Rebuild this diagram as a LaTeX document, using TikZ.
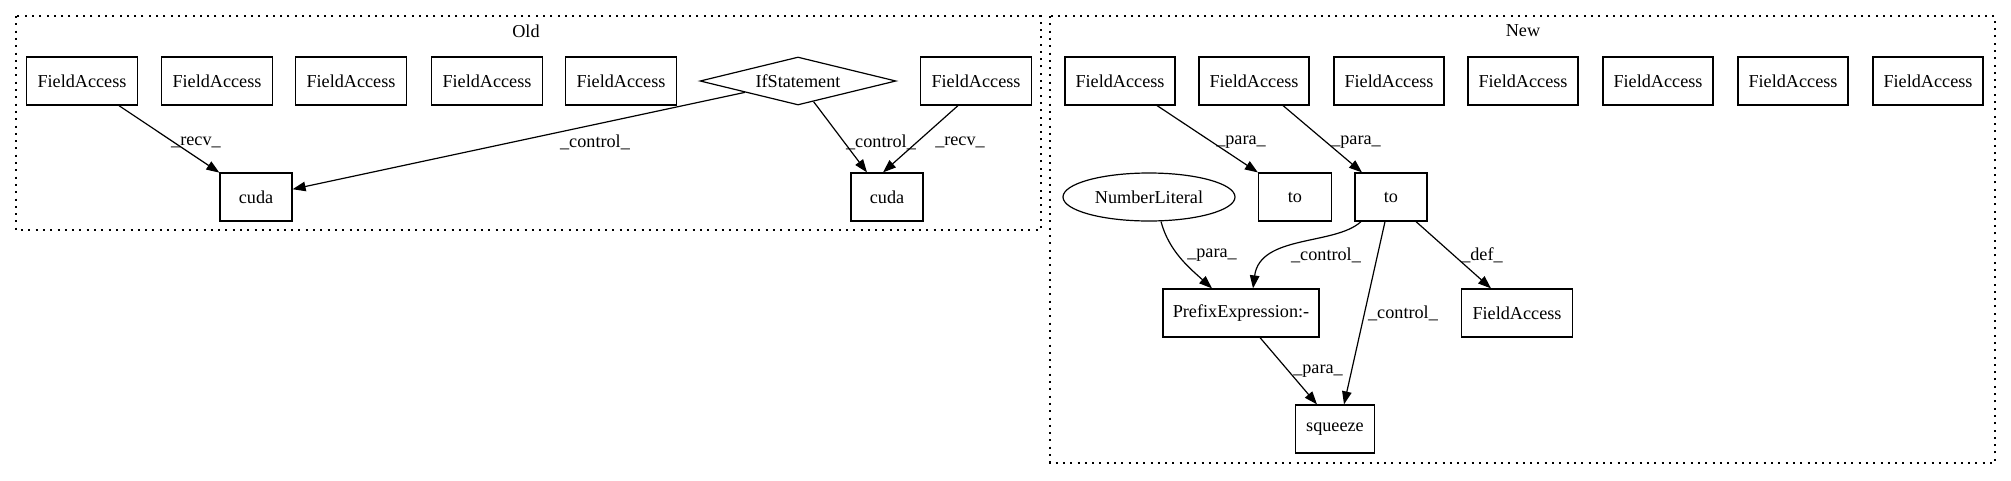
\documentclass[tikz,border=0pt]{standalone}
\usepackage{fontspec}
\setmainfont{Liberation Serif}
\usetikzlibrary{shapes.geometric,arrows.meta}
\begin{document}
\begin{tikzpicture}[x=1pt,y=-1pt,
  every node/.style={font=\fontsize{18.2}{22}\selectfont},
  box/.style={draw,line width=1.2pt,minimum height=48pt,inner sep=0pt,minimum width=#1},
  box/.default=111pt,
  decision/.style={draw,diamond,aspect=4,line width=1.2pt,inner sep=0pt,minimum width=196pt,minimum height=48pt},
  oval/.style={draw,ellipse,line width=1.2pt,inner sep=0pt,minimum width=172pt,minimum height=48pt},
  conn/.style={draw,line width=1.2pt,-{Triangle[length=13pt,width=9.5pt]}},
  lbl/.style={inner sep=0pt},
  cluster/.style={draw,line width=1.3pt,dash pattern=on 2pt off 5.3pt}
]
\useasboundingbox (0,0) rectangle (2011,480);

% clusters
\draw[cluster] (16,16) rectangle (1041,230);
\node (oldlbl) at (526,31) {Old};
\draw[cluster] (1050,16) rectangle (1995,463);
\node (newlbl) at (1523,31) {New};

% Old nodes
\node[box] (ofa1) at (82,81) {FieldAccess};
\node[box] (ofa2) at (217,81) {FieldAccess};
\node[box] (ofa3) at (351,81) {FieldAccess};
\node[box] (ofa4) at (487,81) {FieldAccess};
\node[box] (ofa5) at (621,81) {FieldAccess};
\node[decision] (ifs) at (798,81) {IfStatement};
\node[box] (ofa6) at (976,81) {FieldAccess};
\node[box=72pt] (cuda1) at (256,197) {cuda};
\node[box=72pt] (cuda2) at (887,197) {cuda};

% Old edges
\draw[conn] (ofa1) -- (cuda1) node[lbl] at (196,142) {\_recv\_};
\draw[conn] (ifs) -- (cuda1) node[lbl] at (595,142) {\_control\_};
\draw[conn] (ifs) -- ([xshift=-20pt]cuda2.north) node[lbl] at (881,142) {\_control\_};
\draw[conn] ([xshift=-18pt]ofa6.south) -- ([xshift=-4pt]cuda2.north) node[lbl] at (960,142) {\_recv\_};

% New nodes
\node[box=110pt] (n1) at (1120,81) {FieldAccess};
\node[box=110pt] (n2) at (1254,81) {FieldAccess};
\node[box=110pt] (n3) at (1389,81) {FieldAccess};
\node[box=110pt] (n4) at (1523,81) {FieldAccess};
\node[box=110pt] (n5) at (1658,81) {FieldAccess};
\node[box=110pt] (n6) at (1793,81) {FieldAccess};
\node[box=110pt] (n7) at (1928,81) {FieldAccess};
\node[oval] (nl) at (1149,197) {NumberLiteral};
\node[box=73pt] (to1) at (1295,197) {to};
\node[box=72pt] (to2) at (1391,197) {to};
\node[box=156pt] (pre) at (1241,313) {PrefixExpression:-};
\node[box=111pt] (def) at (1517,313) {FieldAccess};
\node[box=79pt] (sq) at (1335,429) {squeeze};

% New edges
\draw[conn] (n1) -- (to1) node[lbl] at (1241,142) {\_para\_};
\draw[conn] (n2) -- (to2) node[lbl] at (1356,142) {\_para\_};
\draw[conn] ([xshift=12pt]nl.south) .. controls +(8,30) and +(-22,-20) .. ([xshift=-29pt]pre.north) node[lbl] at (1212,255) {\_para\_};
\draw[conn] ([xshift=-30pt]to2.south) .. controls +(-26,24) and +(7,-54) .. ([xshift=12pt]pre.north) node[lbl] at (1326,255) {\_control\_};
\draw[conn] ([xshift=-6pt]to2.south) -- ([xshift=9pt]sq.north) node[lbl] at (1403,313) {\_control\_};
\draw[conn] ([xshift=25pt]to2.south) -- ([xshift=-26pt]def.north) node[lbl] at (1482,255) {\_def\_};
\draw[conn] ([xshift=19pt]pre.south) -- ([xshift=-18pt]sq.north) node[lbl] at (1318,371) {\_para\_};
\end{tikzpicture}
\end{document}
